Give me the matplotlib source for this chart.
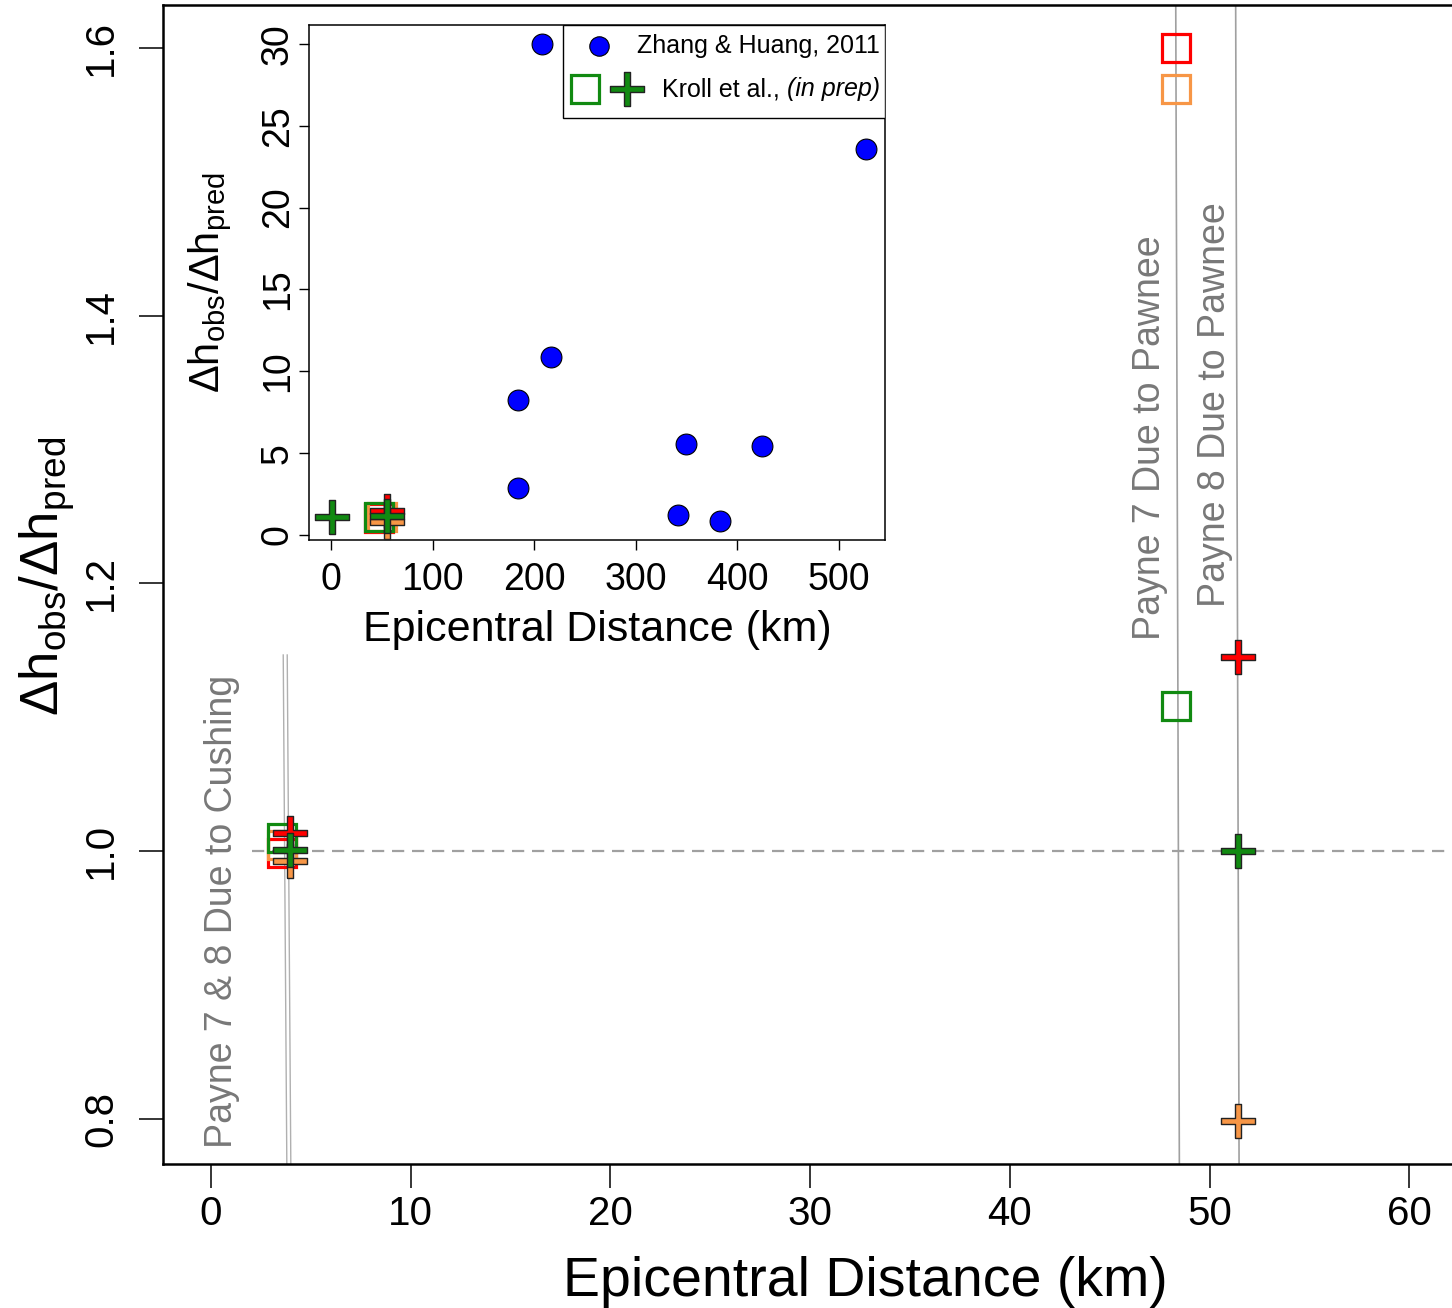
import matplotlib
matplotlib.use("Agg")
import matplotlib.pyplot as plt
from matplotlib.patches import Rectangle

plt.rcParams['font.family'] = ['Liberation Sans', 'DejaVu Sans']
plt.rcParams['mathtext.fontset'] = 'custom'
plt.rcParams['mathtext.rm'] = 'Liberation Sans'
plt.rcParams['mathtext.it'] = 'Liberation Sans:italic'

RED = '#ff0000'
ORANGE = '#f79646'
GREEN = '#118a11'
GRAY = '#a0a0a0'
TEXTGRAY = '#787878'

# Kroll et al. ratios (order: red, orange, green)
sq_dist = [3.55, 48.33]
sq_red = [0.9985, 1.600]
sq_orange = [1.005, 1.5697]
sq_green = [1.0101, 1.1085]

cross_dist = [3.96, 51.43]
cross_red = [1.0139, 1.1451]
cross_orange = [0.9925, 0.7985]
cross_green = [1.0009, 1.0002]

# well traces (top x, bottom x) and their y extent
cushing_x = [(3.62, 3.80), (3.82, 4.00)]
cushing_y = (1.1466, 0.7664)
pawnee_x = [(48.31, 48.49), (51.31, 51.48)]

# inset: Zhang & Huang, 2011
zh_dist = [207.7, 526.6, 216.5, 184.1, 184.1, 349.4, 424.2, 341.5, 382.9]
zh_ratio = [30.0, 23.58, 10.87, 8.25, 2.87, 5.56, 5.44, 1.22, 0.86]

# inset: Kroll et al.
in_sq_dist = [47.0, 50.0, 47.0]
in_sq_ratio = [1.04, 1.08, 1.12]
in_cross_dist = [55.0, 55.0, 55.0, 0.7]
in_cross_ratio = [1.48, 0.81, 1.18, 1.12]
in_cross_color = [RED, ORANGE, GREEN, GREEN]

# thick plus sign
a, b = 0.095, 0.5
plus = [(-a, -b), (a, -b), (a, -a), (b, -a), (b, a), (a, a), (a, b), (-a, b),
        (-a, a), (-b, a), (-b, -a), (-a, -a), (-a, -b)]

fig = plt.figure(figsize=(14.52, 13.08), dpi=100)
W, H = 1452.0, 1308.0
ax = fig.add_axes([163 / W, (H - 1164) / H, (1567 - 163) / W, (1164 - 5) / H])

for (xt, xb) in cushing_x:
    ax.plot([xt, xb], cushing_y, color='#b0b0b0', lw=1.0, zorder=1)
for (xt, xb) in pawnee_x:
    ax.plot([xt, xb], [1.6321, 0.7664], color=GRAY, lw=1.2, zorder=1)

ax.hlines(1.0, 2.05, 70, colors=GRAY, linestyles=(0, (5.5, 3.5)), lw=1.6, zorder=1)

sq_kw = dict(marker='s', ms=20, mfc='none', mew=2.3, ls='none', zorder=3)
ax.plot(sq_dist, sq_red, mec=RED, **sq_kw)
ax.plot(sq_dist, sq_orange, mec=ORANGE, **sq_kw)
ax.plot(sq_dist, sq_green, mec=GREEN, **sq_kw)

cr_kw = dict(marker=plus, ms=24, mec='#222222', mew=1.0, ls='none', zorder=4)
ax.plot(cross_dist, cross_red, mfc=RED, **cr_kw)
ax.plot(cross_dist, cross_orange, mfc=ORANGE, **cr_kw)
ax.plot(cross_dist, cross_green, mfc=GREEN, **cr_kw)

ax.text(47.0, 1.158, 'Payne 7 Due to Pawnee', rotation=90, ha='center', va='bottom',
        fontsize=27, color=TEXTGRAY)
ax.text(50.26, 1.1825, 'Payne 8 Due to Pawnee', rotation=90, ha='center', va='bottom',
        fontsize=27, color=TEXTGRAY)
ax.text(0.55, 0.7783, 'Payne 7 & 8 Due to Cushing', rotation=90, ha='center', va='bottom',
        fontsize=27, color=TEXTGRAY)

ax.set_xlim(-2.40, 67.9)
ax.set_ylim(0.7664, 1.6321)
ax.set_xticks(range(0, 70, 10))
ax.set_yticks([0.8, 1.0, 1.2, 1.4, 1.6])
ax.set_yticklabels(['0.8', '1.0', '1.2', '1.4', '1.6'])
ax.tick_params(axis='both', direction='out', length=17, width=1.1, labelsize=29)
ax.tick_params(axis='x', pad=5)
ax.tick_params(axis='y', pad=14, labelrotation=90)
for lab in ax.get_yticklabels():
    lab.set_va('center')
for s in ax.spines.values():
    s.set_linewidth(1.8)
ax.spines['right'].set_visible(False)

ax.set_xlabel('Epicentral Distance (km)', fontsize=40)
ax.xaxis.set_label_coords(0.5, -0.079)
ax.set_ylabel(r'Δh$_{\mathrm{obs}}$/Δh$_{\mathrm{pred}}$', fontsize=38)
ax.yaxis.set_label_coords(-0.061, 0.507)

# inset
ins = fig.add_axes([309 / W, (H - 540) / H, (885 - 309) / W, (540 - 25) / H])
ins.plot(zh_dist, zh_ratio, 'o', ms=15, mfc='#0000ff', mec='black', mew=0.8, zorder=3)
in_sq_color = [RED, ORANGE, GREEN]
for xd, yv, c in zip(in_sq_dist, in_sq_ratio, in_sq_color):
    ins.plot([xd], [yv], mec=c, **sq_kw)
for xd, yv, c in zip(in_cross_dist, in_cross_ratio, in_cross_color):
    ins.plot([xd], [yv], mfc=c, **cr_kw)

ins.set_xlim(-21.7, 545.3)
ins.set_ylim(-0.31, 31.15)
ins.set_xticks(range(0, 600, 100))
ins.set_yticks(range(0, 35, 5))
ins.tick_params(axis='both', direction='out', length=7.5, width=1.0, labelsize=27)
ins.tick_params(axis='x', pad=8)
ins.tick_params(axis='y', pad=2, labelrotation=90)
for lab in ins.get_yticklabels():
    lab.set_va('center')
for s in ins.spines.values():
    s.set_linewidth(1.1)
ins.set_xlabel('Epicentral Distance (km)', fontsize=31)
ins.xaxis.set_label_coords(0.5, -0.135)
ins.set_ylabel(r'Δh$_{\mathrm{obs}}$/Δh$_{\mathrm{pred}}$', fontsize=30)
ins.yaxis.set_label_coords(-0.13, 0.5)

# legend box drawn by hand so the text sits right-aligned
ins.add_patch(Rectangle((0.441, 0.8194), 0.559, 0.1806, transform=ins.transAxes,
                        fc='white', ec='black', lw=1.0, zorder=5))
ins.plot([0.5035], [0.959], 'o', ms=14, mfc='#0000ff', mec='black', mew=0.8,
         transform=ins.transAxes, zorder=6)
ins.plot([0.479], [0.8757], marker='s', ms=20, mfc='none', mew=2.3, mec=GREEN,
         transform=ins.transAxes, zorder=6)
ins.plot([0.552], [0.8757], marker=plus, ms=24, mfc=GREEN, mec='#222222', mew=1.0,
         transform=ins.transAxes, zorder=6)
ins.text(0.991, 0.959, 'Zhang & Huang, 2011', transform=ins.transAxes, ha='right',
         va='center', fontsize=18, zorder=7)
ital = ins.text(0.991, 0.8757, '(in prep)', transform=ins.transAxes, ha='right',
                va='center', fontsize=18, style='italic', zorder=7)
fig.canvas.draw()
left_px = ital.get_window_extent().x0
left_ax = ins.transAxes.inverted().transform((left_px, 0))[0]
ins.text(left_ax, 0.8757, 'Kroll et al., ', transform=ins.transAxes, ha='right',
         va='center', fontsize=18, zorder=7)

fig.savefig('out.png', dpi=100)
